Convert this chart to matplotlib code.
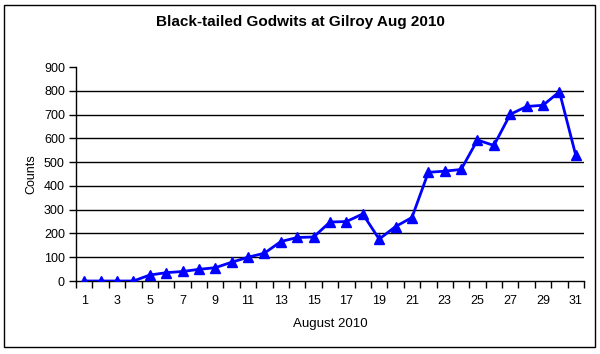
import matplotlib
matplotlib.use("Agg")
import matplotlib.pyplot as plt
from matplotlib.patches import Rectangle

days = list(range(1, 32))
counts = [0, 0, 0, 0, 25, 35, 40, 49, 56, 79, 100, 117, 166, 183, 185, 248, 250, 282,
          176, 229, 267, 457, 462, 469, 593, 570, 701, 734, 739, 796, 528]
y_ticks = [0, 100, 200, 300, 400, 500, 600, 700, 800, 900]
x_labels = [str(d) for d in days if d % 2 == 1]

plt.rcParams['font.family'] = ['Liberation Sans', 'DejaVu Sans']

fig = plt.figure(figsize=(6.0, 3.54), dpi=100)
ax = fig.add_axes([76/600, (354-281)/354, (584-76)/600, (281-67)/354])

ax.plot(days, counts, color='#0000FF', linewidth=2, marker='^', markersize=7,
        markerfacecolor='#0000FF', markeredgecolor='#0000FF', zorder=3)

ax.set_xlim(0.5, 31.5)
ax.set_ylim(0, 900)
ax.set_yticks(y_ticks)
ax.set_yticklabels([str(v) for v in y_ticks], fontsize=9)
ax.set_xticks([d for d in days if d % 2 == 1])
ax.set_xticklabels(x_labels, fontsize=9)
ax.tick_params(axis='x', length=0, pad=10)
ax.set_xticks([d + 0.5 for d in range(0, 32)], minor=True)
ax.tick_params(axis='x', which='minor', length=5, direction='out', width=1, color='black')
ax.tick_params(axis='y', length=5, direction='out', width=1, color='black', pad=3)

ax.grid(axis='y', color='black', linewidth=1)
ax.yaxis.get_gridlines()[-1].set_visible(False)
ax.yaxis.get_gridlines()[0].set_visible(False)
ax.set_axisbelow(True)

for s in ['top', 'right']:
    ax.spines[s].set_visible(False)
for s in ['left', 'bottom']:
    ax.spines[s].set_color('black')
    ax.spines[s].set_linewidth(1)

ax.set_ylabel('Counts', fontsize=9, labelpad=5)
ax.set_xlabel('August 2010', fontsize=9.5, labelpad=8)
fig.text(0.5, 1 - 22/354, 'Black-tailed Godwits at Gilroy Aug 2010', ha='center', va='center',
         fontsize=11, fontweight='bold')

fig.patches.append(Rectangle((4/600, 1 - 347/354), 591/600, 342/354, transform=fig.transFigure,
                             fill=False, edgecolor='black', linewidth=1))

fig.savefig('out.png', dpi=100)
